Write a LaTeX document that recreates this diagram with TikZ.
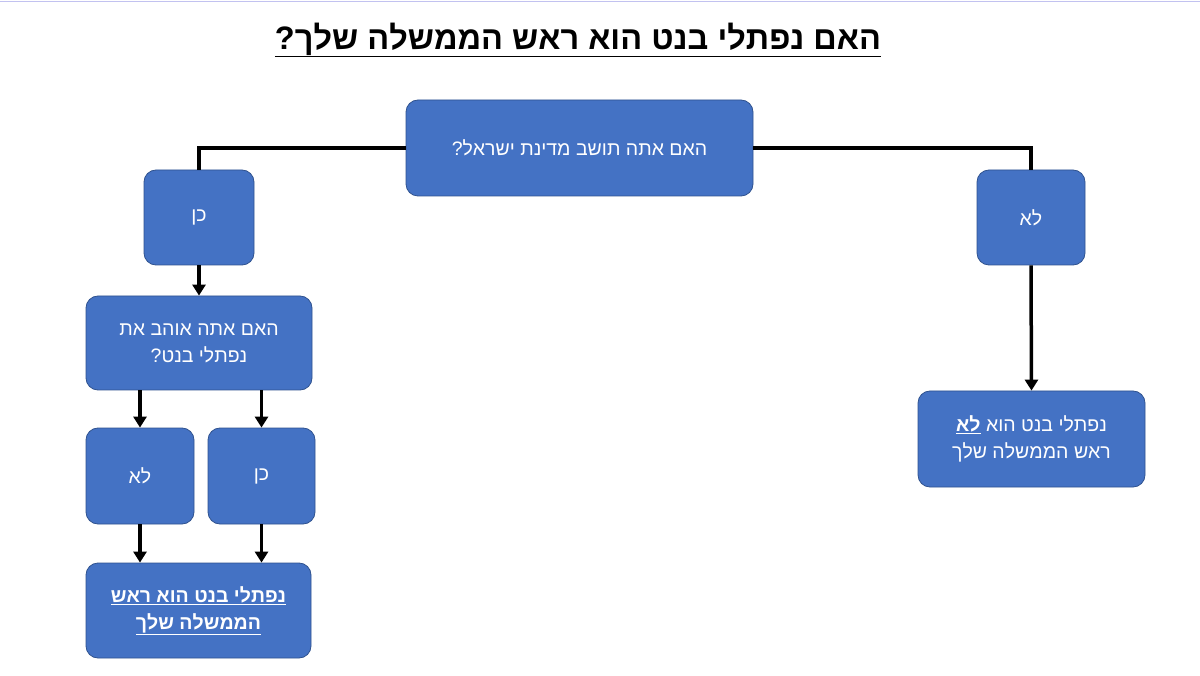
\documentclass[tikz,border=0pt]{standalone}
\usepackage{fontspec}
\setmainfont{Liberation Sans}
\usetikzlibrary{arrows.meta}
\TeXXeTstate=1
\newcommand{\heb}[1]{\beginR #1\endR}
\definecolor{boxfill}{HTML}{4472C4}
\definecolor{boxline}{HTML}{2F528F}
\begin{document}
\begin{tikzpicture}[x=1pt,y=-1pt,
  box/.style={draw=boxline,line width=0.8pt,fill=boxfill,rounded corners=12pt,text=white,align=center,font=\fontsize{19.5}{27}\selectfont},
  conn/.style={line width=3.5pt,black},
  arr/.style={conn,-{Triangle[length=11pt,width=13pt]}}]
\useasboundingbox (0,0) rectangle (1200,676);
\fill[white] (0,0) rectangle (1200,676);
\draw[color=gray!40!blue!30,line width=1pt] (0,2) -- (1200,2);
\node (title) at (578,40) {\fontsize{32.5}{38}\selectfont\bfseries\underline{\heb{האם נפתלי בנט הוא ראש הממשלה שלך?}}};
\node[box,minimum width=347pt,minimum height=96pt] (q1) at (579.5,148) {\heb{האם אתה תושב מדינת ישראל?}};
\node[box,minimum width=110pt,minimum height=95pt] (yes1) at (199,217.5) {\heb{כן}};
\node[box,minimum width=108pt,minimum height=95pt] (no1) at (1031,217.5) {\heb{לא}};
\node[box,minimum width=226pt,minimum height=94pt] (q2) at (199,343) {\heb{האם אתה אוהב את}\\\heb{נפתלי בנט?}};
\node[box,minimum width=108pt,minimum height=96pt] (no2) at (140,476) {\heb{לא}};
\node[box,minimum width=107pt,minimum height=96pt] (yes2) at (261.5,476) {\heb{כן}};
\node[box,minimum width=225pt,minimum height=95pt] (res1) at (198.5,610.5) {\bfseries\underline{\heb{נפתלי בנט הוא ראש}}\\\bfseries\underline{\heb{הממשלה שלך}}};
\node[box,minimum width=227pt,minimum height=96pt] (res2) at (1031.5,439) {\heb{נפתלי בנט הוא \textbf{\underline{\heb{לא}}}}\\\heb{ראש הממשלה שלך}};
\draw[conn] (q1.west) -| (yes1.north);
\draw[conn] (q1.east) -| (no1.north);
\draw[arr] (yes1.south) -- (q2.north);
\draw[arr] (no1.south) -- (res2.north);
\draw[arr] (no2.north |- q2.south) -- (no2.north);
\draw[arr] (yes2.north |- q2.south) -- (yes2.north);
\draw[arr] (no2.south) -- (no2.south |- res1.north);
\draw[arr] (yes2.south) -- (yes2.south |- res1.north);
\end{tikzpicture}
\end{document}
